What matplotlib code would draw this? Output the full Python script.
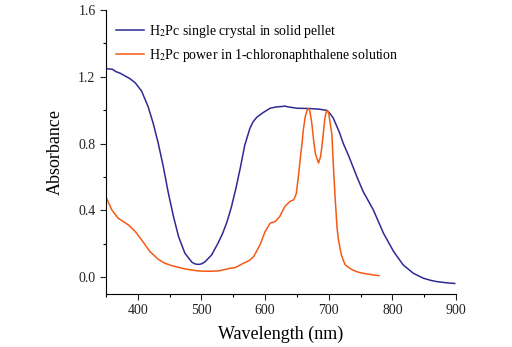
import matplotlib

matplotlib.use("Agg")
import matplotlib.pyplot as plt
from matplotlib.ticker import MultipleLocator

# H2Pc single crystal in solid pellet
wl_crystal = [350, 360, 363, 365, 372, 380, 388, 396, 406, 416, 424, 432, 440, 448,
              456, 464, 474, 485, 490, 495, 500, 506, 516, 526, 533, 540, 547, 554,
              561, 568, 576, 581, 587, 597, 608, 618, 626, 631, 636, 643, 650, 660,
              671, 686, 697, 702, 707, 712, 717, 723, 731, 744, 754, 770, 786, 802,
              817, 833, 849, 860, 870, 885, 898]
abs_crystal = [1.249, 1.245, 1.238, 1.232, 1.222, 1.205, 1.188, 1.164, 1.114, 1.023,
               0.924, 0.804, 0.663, 0.504, 0.364, 0.244, 0.144, 0.09, 0.08, 0.077,
               0.08, 0.094, 0.134, 0.204, 0.26, 0.33, 0.42, 0.53, 0.654, 0.79,
               0.89, 0.93, 0.958, 0.986, 1.012, 1.02, 1.022, 1.025, 1.02, 1.016,
               1.012, 1.011, 1.01, 1.006, 0.999, 0.98, 0.954, 0.91, 0.865, 0.80,
               0.73, 0.604, 0.514, 0.404, 0.264, 0.154, 0.074, 0.024, -0.006,
               -0.018, -0.026, -0.033, -0.037]

# H2Pc power in 1-chloronaphthalene solution
wl_solution = [350, 359, 369, 385, 396, 406, 419, 432, 442, 453, 474, 495, 510, 527,
               545, 553, 566, 575, 582, 592, 600, 608, 616, 623, 631, 639, 645, 649,
               652, 655, 658, 660, 663, 666, 668, 670, 673, 676, 679, 684, 687, 689,
               692, 694, 696, 698, 700, 702, 705, 707, 710, 713, 715, 718, 720, 723,
               726, 731, 737, 743, 749, 760, 770, 779]
abs_solution = [0.48, 0.404, 0.354, 0.314, 0.274, 0.224, 0.154, 0.108, 0.085, 0.07,
                0.05, 0.038, 0.036, 0.038, 0.054, 0.058, 0.084, 0.1, 0.124, 0.194,
                0.274, 0.324, 0.334, 0.364, 0.424, 0.454, 0.464, 0.5, 0.594, 0.7,
                0.8, 0.88, 0.96, 1.0, 1.01, 1.0, 0.934, 0.83, 0.74, 0.684, 0.72,
                0.774, 0.88, 0.954, 0.99, 0.999, 0.98, 0.93, 0.854, 0.69, 0.48, 0.3,
                0.23, 0.17, 0.134, 0.1, 0.074, 0.06, 0.045, 0.035, 0.028, 0.02,
                0.014, 0.01]

plt.rcParams["font.family"] = ["Liberation Serif", "DejaVu Serif"]
plt.rcParams["mathtext.fontset"] = "stix"

fig = plt.figure(figsize=(5.12, 3.47), dpi=100, facecolor="white")
ax = fig.add_axes([106 / 512, 1 - 294 / 347, 350 / 512, 284 / 347])

ax.plot(wl_crystal, abs_crystal, color="#2e2a94", linewidth=1.1,
        label="H$_2$Pc single crystal in solid pellet")
ax.plot(wl_solution, abs_solution, color="#f55a14", linewidth=1.1,
        label="H$_2$Pc power in 1-chloronaphthalene solution")

ax.set_xlim(350, 900)
ax.set_ylim(-0.1, 1.6)
ax.xaxis.set_major_locator(MultipleLocator(100))
ax.xaxis.set_minor_locator(MultipleLocator(50))
ax.yaxis.set_major_locator(MultipleLocator(0.4))
ax.yaxis.set_minor_locator(MultipleLocator(0.2))
ax.yaxis.set_major_formatter(lambda v, p: "%.1f" % v)
ax.tick_params(which="major", direction="out", length=4, width=0.8, labelsize=10, colors="#222222")
ax.tick_params(which="minor", direction="out", length=2.5, width=0.8)
for side in ("top", "right"):
    ax.spines[side].set_visible(False)

ax.set_xlabel("Wavelength (nm)", fontsize=13, labelpad=6)
ax.set_ylabel("Absorbance", fontsize=13, labelpad=10)

ax.legend(loc="upper left", bbox_to_anchor=(0.0, 0.99), frameon=False, fontsize=10,
          handlelength=2.0, handletextpad=0.4, labelspacing=0.5, borderaxespad=0.3)

fig.savefig("out.png", dpi=100)
